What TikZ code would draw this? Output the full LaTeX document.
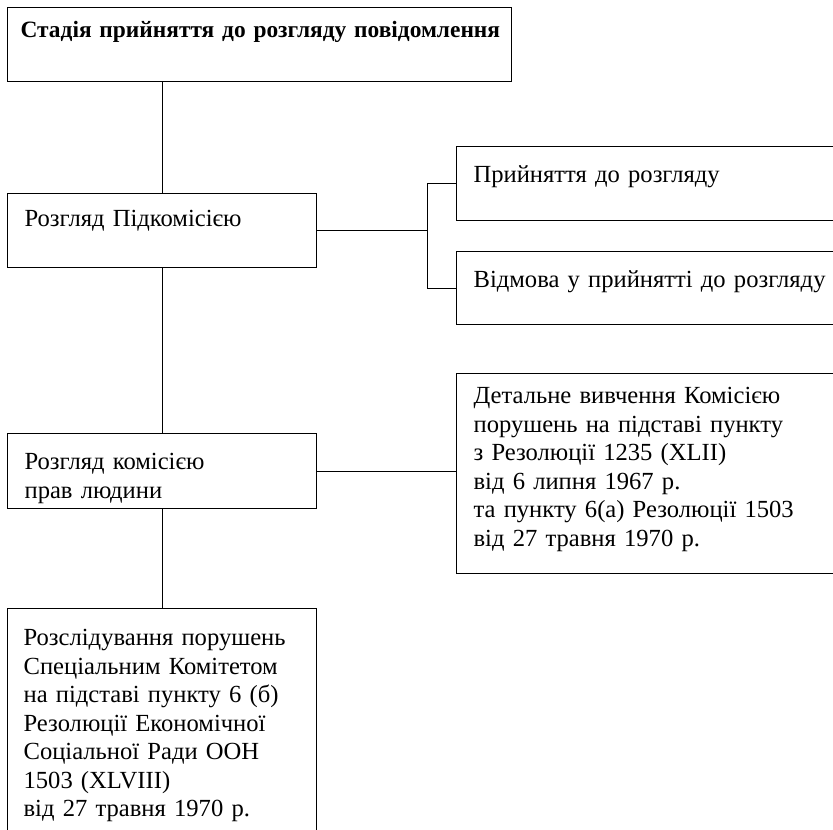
\documentclass[tikz,border=0pt]{standalone}
\usepackage{fontspec}
\setmainfont{Liberation Serif}
\usetikzlibrary{positioning}
\tikzset{
  stage/.style={draw, line width=0.6pt, anchor=north west, align=left,
    inner ysep=0pt, inner xsep=8.5pt, font=\fontsize{12.3}{14.25}\selectfont},
  link/.style={line width=0.5pt},
}

\begin{document}
\begin{tikzpicture}[x=0.5pt, y=-0.5pt]
    \useasboundingbox (0,0) rectangle (833,829);
    \clip (0,0) rectangle (833,829);
    % left column of stages
    \node[stage, inner xsep=6.5pt, text width=239pt, text height=15pt, text depth=22pt,
      font=\fontsize{11.7}{14.25}\selectfont\bfseries] (top) at (7,7)
      {\mbox{Стадія прийняття до розгляду повідомлення}};
    \node[stage, text width=137.5pt, text height=16.5pt, text depth=20.5pt] (sub) at (7,193)
      {Розгляд Підкомісією};
    \node[stage, text width=137.5pt, text height=18pt, text depth=19.5pt] (comm) at (7,433)
      {Розгляд комісією\\прав людини};
    \node[stage, inner xsep=8pt, text width=138.5pt, text height=18.5pt, text depth=101.5pt] (invest) at (7,608)
      {Розслідування порушень\\Спеціальним Комітетом\\на підставі пункту 6 (б)\\
       Резолюції Економічної\\Соціальної Ради ООН\\1503 (XLVIII)\\від 27 травня 1970 р.};
    % right column of outcomes
    \node[stage, text width=183pt, text height=18pt, text depth=19pt] (accept) at (456,146)
      {Прийняття до розгляду};
    \node[stage, text width=183pt, text height=18pt, text depth=18.5pt] (refuse) at (456,251)
      {Відмова у прийнятті до розгляду};
    \node[stage, text width=183pt, text height=15pt, text depth=85pt] (study) at (456,373)
      {Детальне вивчення Комісією\\порушень на підставі пункту\\з Резолюції 1235 (XLII)\\
       від 6 липня 1967 р.\\та пункту 6(а) Резолюції 1503\\від 27 травня 1970 р.};
    % connectors
    \draw[link] (sub.north) -- (sub.north |- top.south);
    \draw[link] (sub.south) -- (comm.north);
    \draw[link] (comm.south) -- (invest.north);
    \coordinate[right=55pt of sub.east] (fork);
    \draw[link] (sub.east) -- (fork);
    \draw[link] (accept.west) -| (fork) |- (refuse.west);
    \draw[link] (comm.east) -- (comm.east -| study.west);
\end{tikzpicture}
\end{document}
